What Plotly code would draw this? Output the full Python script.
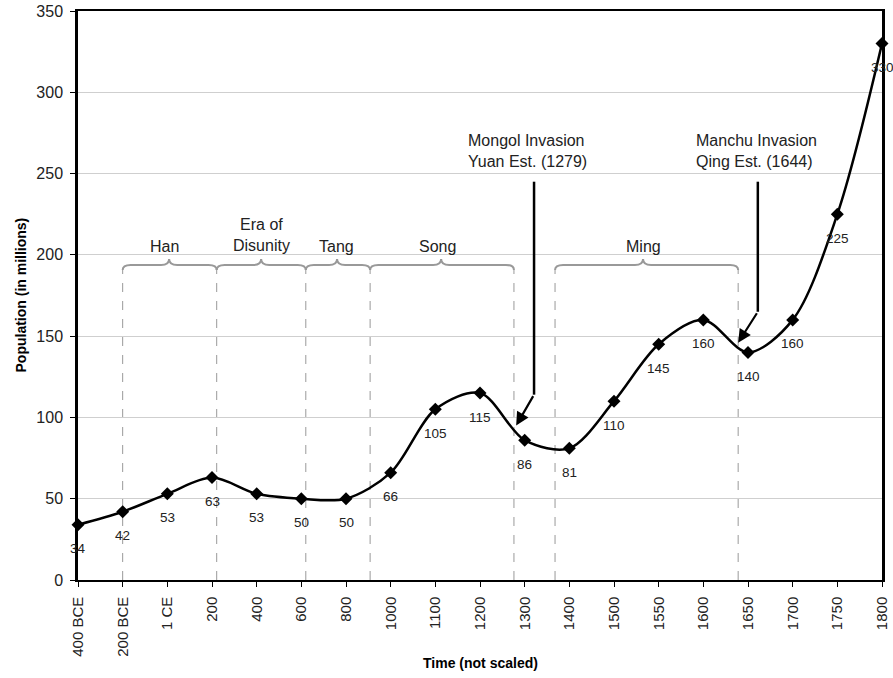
import plotly.graph_objects as go

# ---- data ----
periods = ["400 BCE", "200 BCE", "1 CE", "200", "400", "600", "800", "1000", "1100",
           "1200", "1300", "1400", "1500", "1550", "1600", "1650", "1700", "1750", "1800"]
population = [34, 42, 53, 63, 53, 50, 50, 66, 105, 115, 86, 81, 110, 145, 160, 140, 160, 225, 330]

# dynasty brackets: name, start index, end index (category-index units), label lines
dynasty_names = ["Han", "Era of<br>Disunity", "Tang", "Song", "Ming"]
dynasty_start = [1.0, 3.105, 5.10, 6.54, 10.68]
dynasty_end = [3.105, 5.10, 6.54, 9.76, 14.78]
dynasty_tip = [2.04, 4.10, 5.80, 8.13, 12.65]
dynasty_label_x = [1.93, 4.10, 5.78, 8.04, 12.65]
dynasty_label_y = [205, 212, 205, 205, 205]

# event callouts
event_text = ["Mongol Invasion<br>Yuan Est. (1279)", "Manchu Invasion<br>Qing Est. (1644)"]
event_text_x = [10.07, 15.18]
event_line_x = [10.21, 15.22]
event_line_top = [245, 245]
event_line_bottom = [114, 165]
event_head_x = [9.81, 14.78]
event_head_y = [95, 146]

FONT = "Liberation Sans, Arial, sans-serif"
idx = list(range(len(periods)))

fig = go.Figure()
fig.add_trace(go.Scatter(
    x=idx, y=population, mode="lines+markers",
    line=dict(color="black", width=2.5, shape="spline", smoothing=0.9),
    marker=dict(symbol="diamond", size=10, color="black"),
    cliponaxis=False, hoverinfo="skip", showlegend=False,
))

shapes = []
annotations = []

# data labels
for i, v in zip(idx, population):
    annotations.append(dict(x=i, y=v, xref="x", yref="y", text=str(v), showarrow=False,
                            yshift=-24, font=dict(family=FONT, size=13.5, color="#222")))

# dashed boundaries and braces
y_end, y_main, y_tip = 190.7, 193.8, 197.5
dx = 0.18
bounds = sorted(set(dynasty_start + dynasty_end))
for b in bounds:
    shapes.append(dict(type="line", xref="x", yref="y", x0=b, x1=b, y0=0, y1=y_end,
                       line=dict(color="#999", width=1, dash="dash"), layer="below"))
for s, e, t in zip(dynasty_start, dynasty_end, dynasty_tip):
    p = (f"M {s},{y_end} Q {s},{y_main} {s+dx},{y_main} L {t-dx},{y_main} "
         f"Q {t},{y_main} {t},{y_tip} Q {t},{y_main} {t+dx},{y_main} "
         f"L {e-dx},{y_main} Q {e},{y_main} {e},{y_end}")
    shapes.append(dict(type="path", xref="x", yref="y", path=p,
                       line=dict(color="#999", width=2)))
for name, lx, ly in zip(dynasty_names, dynasty_label_x, dynasty_label_y):
    annotations.append(dict(x=lx, y=ly, xref="x", yref="y", text=name, showarrow=False,
                            font=dict(family=FONT, size=16, color="#222"), yanchor="middle"))

# event callouts
for txt, tx, lx, lt, lb, hx, hy in zip(event_text, event_text_x, event_line_x, event_line_top,
                                        event_line_bottom, event_head_x, event_head_y):
    annotations.append(dict(x=tx, y=264, xref="x", yref="y", text=txt, showarrow=False,
                            align="left", font=dict(family=FONT, size=16, color="#222")))
    shapes.append(dict(type="line", xref="x", yref="y", x0=lx, x1=lx, y0=lt, y1=lb,
                       line=dict(color="black", width=2.5)))
    annotations.append(dict(x=hx, y=hy, xref="x", yref="y", ax=lx, ay=lb, axref="x", ayref="y",
                            text="", showarrow=True, arrowhead=2, arrowsize=1.2, arrowwidth=2.2,
                            arrowcolor="black", standoff=0))

# axis titles
annotations.append(dict(x=0, y=0.5, xref="paper", yref="paper", xshift=-58, textangle=-90,
                        xanchor="center", yanchor="middle",
                        text="<b>Population (in millions)</b>", showarrow=False,
                        font=dict(family=FONT, size=14, color="black")))
annotations.append(dict(x=0.5, y=0, xref="paper", yref="paper", yshift=-83,
                        xanchor="center", yanchor="middle",
                        text="<b>Time (not scaled)</b>", showarrow=False,
                        font=dict(family=FONT, size=14, color="black")))

fig.update_layout(
    width=893, height=678,
    margin=dict(l=78, r=11, t=11, b=98, autoexpand=False),
    paper_bgcolor="white", plot_bgcolor="white",
    shapes=shapes, annotations=annotations,
    font=dict(family=FONT, size=14, color="#222"),
    xaxis=dict(range=[0, 18], tickmode="array", tickvals=idx, ticktext=periods,
               tickangle=-90, ticks="outside", ticklen=5, tickcolor="black",
               ticklabelstandoff=4,
               showline=True, linecolor="black", linewidth=1.5, mirror=True,
               showgrid=False, zeroline=False, fixedrange=True, automargin=False,
               tickfont=dict(family=FONT, size=15, color="#222")),
    yaxis=dict(range=[0, 350], dtick=50, ticks="outside", ticklen=5, tickcolor="black",
               ticklabelstandoff=4,
               showline=True, linecolor="black", linewidth=2.5, mirror=True,
               showgrid=True, gridcolor="#cfcfcf", gridwidth=1, zeroline=False,
               fixedrange=True, automargin=False,
               tickfont=dict(family=FONT, size=16, color="#222")),
)

fig.write_html("out.html", config={"displayModeBar": False},
               post_script="document.body.style.margin='0';document.body.style.overflow='hidden';")
